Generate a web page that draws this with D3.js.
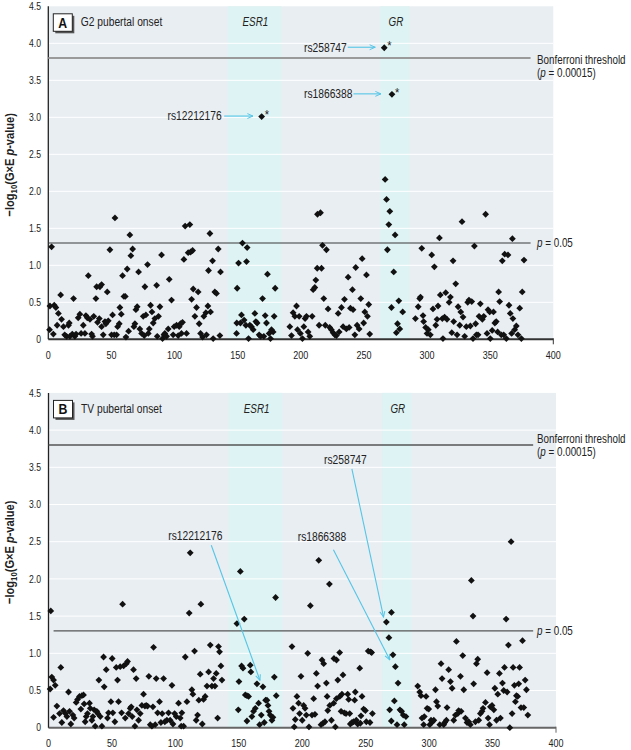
<!DOCTYPE html>
<html><head><meta charset="utf-8">
<script src="https://cdn.jsdelivr.net/npm/d3@7"></script>
<style>html,body{margin:0;padding:0;background:#fff;}svg{display:block;}</style>
</head><body>
<script>
// ---------------- DATA ----------------
const xTicks = [0, 50, 100, 150, 200, 250, 300, 350, 400];
const yTicks = [0, 0.5, 1, 1.5, 2, 2.5, 3, 3.5, 4, 4.5];
const yTickLabels = ["0", "0.5", "1.0", "1.5", "2.0", "2.5", "3.0", "3.5", "4.0", "4.5"];
const geneNames = ["ESR1", "GR"];
const geneStart = [142, 263];
const geneEnd = [184.5, 286];
const bonferroniY = 3.8;
const p05Y = 1.301;

// Panel A: G2 pubertal onset  [SNP index, -log10 p]
const g2Points = [
[1,0.13],[1.3,0.45],[2.6,1.25],[4,0.07],[4.7,0.46],[6,0.43],[7,0.19],[8,0.35],[9.8,0.60],[10.5,0.27],[12,0.17],[13,0.06],[14.5,0.04],[16,0.19],[16.6,0.22],[17.1,0.04],[19,0.07],[20,0.55],[21,0.04],[22,0.07],[23.7,0.29],[25,0.34],[26,0.08],[27.7,0.19],[29,0.08],[29.8,0.32],[30.9,0.29],[31.7,0.86],[33,0.27],[34.3,0.07],[35,0.04],[36,0.31],[37.7,0.55],[38.3,0.71],[39,0.23],[40.4,0.28],[40.9,0.71],[42.2,0.74],[42.2,0.17],[43.5,0.06],[44.9,0.24],[45.6,0.21],[46.7,0.64],[47.5,0.25],[48.8,1.21],[50.1,0.06],[50.9,0.33],[52.2,0.06],[52.8,1.64],[54.1,0.06],[54.9,0.17],[56.2,0.21],[56.7,0.43],[57.8,0.34],[58.8,0.86],[59.9,0.58],[61,0.58],[61.5,0.03],[62.5,0.95],[63.6,0.11],[64.6,1.41],[65.4,1.13],[66.8,1.22],[67.8,0.17],[68.6,0.21],[69.4,0.40],[70.4,0.44],[71.5,0.91],[72.5,0.14],[73.9,0.08],[75.2,0.31],[76,0.05],[76.5,0.71],[77.3,0.33],[78.6,1.01],[79.2,0.08],[80,0.14],[81,0.46],[82.1,0.37],[83.1,0.22],[84.4,0.28],[85.8,0.73],[86.3,0.04],[87.3,0.31],[88.4,0.44],[89.7,1.14],[90.5,0.01],[91.6,0.06],[92.3,0.08],[93.7,0.04],[95,0.14],[95.8,0.81],[97.6,0.53],[98.9,0.06],[99.7,0.17],[101.6,0.19],[102.9,0.05],[103.7,0.17],[104.7,0.21],[105.5,0.08],[106.3,0.23],[107.4,1.08],[108.4,1.53],[109.5,0.08],[110.8,1.17],[112.1,1.55],[112.7,1.18],[113.5,0.54],[114.3,1.20],[114.8,0.68],[116.1,0.31],[117.4,0.43],[118.7,0.64],[119.5,0.21],[120.6,0.08],[122.2,0.03],[123.2,0.31],[124.8,0.36],[125.3,0.06],[126.4,0.45],[126.9,0.93],[128,1.43],[128.5,0.37],[130.1,1.06],[130.6,0.01],[131.9,0.64],[133.2,0.62],[134.6,1.22],[135.9,0.05],[136.4,0.91],
[149.1,0.08],[149.3,0.22],[149.6,0.69],[150.7,1.03],[152.2,0.22],[153,0.33],[153.8,1.30],[155.1,0.26],[156.5,0.19],[157,1.05],[157.5,1.24],[158.6,0.01],[159.6,0.19],[160.9,0.17],[162.3,0.13],[163.6,0.35],[164.4,0.24],[165.4,0.22],[167,0.06],[168.1,0.04],[169.7,0.55],[170.7,0.04],[171.8,0.32],[172.8,0.22],[173.6,0.88],[174.9,0.08],[176,0.01],[176.8,0.13],[178.1,0.10],[178.9,0.31],[179.7,0.69],
[191.3,0.17],[192.6,0.05],[193.9,0.36],[195.3,0.31],[196.6,0.45],[197.4,0.13],[198.7,0.31],[199.7,0.08],[201.3,0.01],[202.4,0.17],[203.4,0.28],[204.5,0.31],[205.8,0.10],[207.1,0.04],[209,0.31],[209.8,0.67],[211.1,0.70],[211.9,0.80],[213,0.96],[213.2,1.69],[214.5,0.19],
[215.6,1.71],[216.4,0.96],[217.2,1.27],[218.2,0.55],[219.4,0.19],[220.3,1.21],[221.6,0.41],[222.9,0.16],[224.2,0.13],[225.6,0.09],[226.9,0.06],[228.2,0.05],[229.6,0.35],[230.4,0.10],[232.2,0.43],[233.5,0.17],[234.6,0.54],[236.1,0.14],[237.5,0.84],[238.3,0.16],[239.3,0.42],[240.9,0.67],[241.4,0.40],[242.8,0.06],[243.5,0.97],[244.6,0.19],[246.2,0.14],[247.5,0.55],[248.6,1.09],[249.8,0.22],[250.7,0.37],[252,0.87],[252.8,0.31],[253.8,0.47],[254.6,0.07],
[266.8,2.16],[267.9,1.89],[268.6,1.21],[269.7,1.55],[270.5,1.73],[271.8,0.43],[273.6,0.91],[274.7,1.41],[275.7,0.09],[276.6,0.21],[277.6,0.52],[278.4,0.14],[280.7,0.37],
[290.8,0.28],[293,0.44],[294.2,0.55],[294.8,0.57],[295.8,1.23],[296.8,0.32],[297.3,0.24],[298.9,0.16],[300,0.08],[301,0.13],[302.6,0.06],[303.7,1.14],[304.7,0.41],[305.8,0.98],[306.9,0.19],[307.9,0.27],[308.7,0.45],[309.8,1.37],[310.5,0.60],[312.1,0.28],[312.6,0.01],[313.9,0.30],[314.8,0.63],[315.8,0.27],[317.5,0.50],[318.5,0.57],[319.6,0.09],[320.6,1.06],[321.1,0.24],[322.7,0.75],[323.8,0.06],[324.6,0.44],[325.9,0.19],[326.7,0.37],[327.7,1.59],[328.5,0.30],[329.8,0.04],[331.1,0.17],[332.2,0.50],[333.2,0.53],[334.3,0.18],[335.4,0.51],[336.4,0.01],[337.5,1.26],[338.5,0.21],[339.1,0.06],[340.4,0.06],[341.2,0.31],[342.2,0.48],[343.8,0.27],[344.9,0.31],[346.4,1.69],[347.5,0.08],[348.3,0.40],[349.6,0.37],[350.1,0.01],[351.6,0.12],[352.6,0.37],[353.7,0.22],[354.8,0.24],[355.9,0.10],[356.7,0.64],[357.5,0.51],[358.8,0.06],[359.6,1.06],[360.7,0.06],[361.5,1.15],[362.8,0.01],[364.1,1.14],[364.9,0.46],[365.9,0.35],[367,0.08],[367.6,1.36],[368,0.28],[369.4,0.13],[370.7,0.18],[372,0.06],[373.4,0.42],[374.7,0.01],[375.4,0.64],[376.8,1.07]
];
// Panel A highlighted SNPs
const g2HitNames = ["rs12212176", "rs258747", "rs1866388"];
const g2HitX = [169, 266.1, 272.2];
const g2HitY = [3.01, 3.94, 3.31];

// Panel B: TV pubertal onset
const tvPoints = [
[1.3,0.52],[1.8,1.57],[2.6,0.68],[4,0.64],[5.3,0.57],[4,0.14],[6.6,0.29],[8.7,0.19],[9.7,0.81],[10.5,0.07],[11.8,0.23],[13.4,0.19],[14.5,0.15],[15.8,0.48],[16.6,0.22],[17.6,0.05],[19.2,0.17],[20.2,0.13],[21.8,0.34],[22.9,0.38],[24.4,0.42],[25.5,0.25],[26.3,0.43],[27.6,0.44],[28.1,0.32],[28.9,0.08],[29.7,0.15],[30.7,0.19],[32.3,0.33],[32.9,0.26],[34.2,0.10],[35,0.15],[36,0.24],[36.8,0.02],[38.1,0.22],[38.9,0.19],[39.7,0.64],[40.8,0.15],[42.1,0.02],[43.4,0.95],[43.9,0.55],[45.5,0.78],[46.5,0.13],[47.3,0.20],[49.2,0.35],[50.2,0.93],[50.7,0.20],[52.3,0.08],[53.4,0.81],[54.4,0.64],[55.2,0.35],[56.5,0.82],[57.6,0.20],[58.4,1.66],[59.2,0.83],[60.5,0.13],[61.3,0.86],[62.3,0.89],[63.1,0.19],[64.4,0.26],[65.2,0.28],[66,0.15],[67,0.78],[68.1,0.02],[69.1,0.66],[69.7,0.24],[71,0.10],[72.3,0.19],[73.6,0.30],[74.9,0.45],[76,0.29],[77,0.30],[78.1,0.29],[79.1,0.69],[80.2,0.04],[81.5,0.02],[82.3,0.28],[82.8,1.08],[84.1,0.04],[84.9,0.66],[86,0.20],[87.5,0.35],[88.6,0.07],[89.6,0.19],[90.7,0.66],[91.7,0.08],[93.3,0.10],[94.6,0.20],[95.9,0.10],[97.3,0.57],[98.1,0.05],[99.4,0.19],[100.7,0.15],[102.5,0.33],[103.8,0.13],[104.6,0.02],[105.1,0.20],[106.5,0.02],[107.8,0.95],[109.1,0.35],[110.9,1.54],[111.7,2.35],[113,0.51],[113.8,0.45],[115.1,1.03],[116.4,0.10],[117.5,0.17],[118.5,0.37],[119.6,0.72],[120.1,1.66],[121.2,0.05],[122.2,0.38],[123.5,0.42],[124.9,0.56],[126.2,0.75],[127.5,1.11],[128.8,0.56],[130.1,0.66],[131.2,0.56],[132.2,0.73],[133.3,0.13],[134,1.09],[134.8,1.02],[135.9,0.83],[136.7,0.64],
[148.5,1.40],[149.6,0.24],[150.1,0.62],[151.2,2.10],[152.2,0.83],[153.3,0.80],[154.3,1.46],[155.1,0.44],[156.4,0.43],[157.7,0.42],[156.4,0.09],[159,0.84],[159.5,0.75],[160.3,0.15],[161.6,0.22],[163,0.26],[164.3,0.59],[165.6,0.33],[166.4,0.04],[167.7,0.17],[169,0.55],[170.1,0.07],[171.1,0.37],[172.2,0.37],[173,0.30],[173.8,0.22],[174.8,0.17],[176.1,0.10],[176.9,0.14],[178,0.68],[179,1.75],[179.5,0.43],
[191.9,1.09],[192.7,0.26],[193.7,0.01],[194.5,0.11],[195.8,0.42],[197.1,0.33],[197.9,0.19],[199,0.69],[200,0.10],[201.1,0.30],[202.2,0.26],[203.2,0.17],[204.3,1.00],[205.3,0.01],[206.4,1.64],[207.7,0.17],[209,0.39],[210,0.18],[211.1,0.73],[212.1,0.56],[213,2.25],
[214.8,0.04],[215.6,0.91],[216.4,0.06],[216.9,0.86],[217.9,0.08],[219,0.60],[219.6,0.42],[220.1,0.23],[221.4,1.93],[221.7,0.30],[223,0.10],[224.8,0.33],[225,0.93],[226.1,0.01],[226.9,0.39],[227,0.91],[228,0.64],[229.5,1.01],[229.6,0.42],[230.6,0.22],[231.3,0.45],[232.1,0.71],[233.2,0.20],[234.5,0.19],[235.8,0.45],[236.6,0.38],[237.4,0.19],[237.9,0.05],[239.2,0.07],[240.5,0.08],[241.3,0.37],[241.8,0.48],[242.6,0.10],[243.7,0.05],[245.3,0.80],[245.8,0.06],[246.3,0.16],[247.1,0.42],[248.4,0.25],[249.8,0.23],[250.5,0.08],[252,1.03],[253.4,0.07],[253.9,1.02],[254.7,1.01],[255.3,0.19],
[266.3,1.42],[268.3,1.21],[268.9,0.24],[270.2,0.09],[270.3,1.55],[271.5,0.98],[272.6,0.36],[273.4,0.82],[274.7,0.04],[275.5,0.60],[277,0.24],[278.3,0.22],[279.6,0.17],[280.4,0.04],[281.7,0.15],
[291,0.56],[292.6,0.48],[293.6,0.43],[294.4,0.13],[295.7,0.04],[296.2,0.15],[297.6,0.42],[298.4,0.26],[299.7,0.25],[300.5,0.04],[301.5,0.10],[302.6,0.08],[303.7,0.10],[305,0.51],[305.8,0.35],[306.8,0.29],[308.4,0.04],[309.4,0.86],[310.2,0.66],[311.5,0.04],[312.3,0.07],[313.6,0.10],[314.1,0.27],[315.4,0.78],[316.8,0.62],[318.1,0.53],[319.4,0.10],[320.7,0.17],[321.5,1.16],[322.6,0.19],[323.3,0.23],[324.7,0.69],[325.2,0.22],[326.5,0.97],[327.3,0.51],[328.6,0.13],[329.9,0.07],[331.2,0.08],[332.5,0.04],[333.3,1.98],[334.6,1.50],[335.1,0.59],[336.5,0.08],[337.3,0.86],[338.3,0.92],[339.1,0.10],[340.4,0.19],[341.7,0.22],[342.5,0.26],[344.4,0.34],[345.7,0.74],[346.5,0.13],[347.6,0.04],[348.3,0.28],[349.6,0.30],[351,0.24],[351.8,0.53],[353.1,0.10],[354.1,0.45],[355.4,0.73],[356.2,0.13],[357.8,0.60],[358.8,0.50],[359.4,0.81],[360.7,1.46],[361.5,0.48],[362.5,1.11],[363.6,0.00],[364.6,2.50],[365.4,0.19],[366.2,0.81],[367.2,0.57],[368,0.35],[368.8,0.43],[369.8,0.42],[370.6,0.59],[371.3,0.81],[372.4,0.27],[373.6,1.17],[374.6,0.27],[375.7,0.64],[376.7,0.51],[377.8,0.17]
];
const tvHitNames = ["rs12212176", "rs258747", "rs1866388"];
const tvHitX = [169, 266.3, 271.5];
const tvHitY = [0.55, 1.42, 0.98];

// ---------------- DRAW ----------------
const W = 631, H = 750;
const FONT = "'Liberation Sans', Arial, sans-serif";
const SX = 0.82; // horizontal condensing to mimic a condensed face
const CYAN = "#55c5e6";
const svg = d3.select("body").append("svg").attr("width", W).attr("height", H)
  .style("font-family", FONT);

// condensed text helper
function ctext(parent, x, y, size, anchor) {
  return parent.append("text")
    .attr("transform", `translate(${x},${y}) scale(${SX},1)`)
    .attr("font-size", size).attr("text-anchor", anchor || "start").attr("fill", "#222");
}

const defs = svg.append("defs");
defs.append("marker").attr("id", "arr").attr("viewBox", "0 0 10 10")
  .attr("refX", 9).attr("refY", 5).attr("markerWidth", 7).attr("markerHeight", 7)
  .attr("orient", "auto").attr("markerUnits", "userSpaceOnUse")
  .append("path").attr("d", "M1,1.5 L9,5 L1,8.5").attr("fill", "none")
  .attr("stroke", CYAN).attr("stroke-width", 1.4);

const diamond = (r) => `M0,${-r}L${r},0L0,${r}L${-r},0Z`;

const panels = [
  { letter: "A", title: "G2 pubertal onset", pts: g2Points,
    hitN: g2HitNames, hitX: g2HitX, hitY: g2HitY,
    xr: [48.3, 553.3], yr: [339.3, 6.3], bonfColor: "#9a9a9a", bonfW: 2,
    pColor: "#3a3a3a", pW: 1.1, lineStart: 0, axisColor: "#333" },
  { letter: "B", title: "TV pubertal onset", pts: tvPoints,
    hitN: tvHitNames, hitX: tvHitX, hitY: tvHitY,
    xr: [48.5, 556], yr: [727.7, 392.9], bonfColor: "#555", bonfW: 1.4,
    pColor: "#555", pW: 1.4, lineStart: 4, axisColor: "#666" }
];

panels.forEach((P, pi) => {
  const x = d3.scaleLinear().domain([0, 400]).range(P.xr);
  const y = d3.scaleLinear().domain([0, 4.5]).range(P.yr);
  const g = svg.append("g");

  // background
  g.append("rect").attr("x", x(0)).attr("y", y(4.5))
    .attr("width", x(400) - x(0)).attr("height", y(0) - y(4.5)).attr("fill", "#e9eef3");
  // gene bands
  geneNames.forEach((n, i) => {
    g.append("rect").attr("x", x(geneStart[i])).attr("y", y(4.5))
      .attr("width", x(geneEnd[i]) - x(geneStart[i])).attr("height", y(0) - y(4.5))
      .attr("fill", "#def3f3");
    ctext(g, (x(geneStart[i]) + x(geneEnd[i])) / 2 + 1, y(4.5) + 20, 12, "middle")
      .attr("font-style", "italic").text(n);
  });
  // gridlines
  yTicks.filter(t => t > 0 && t < 4.5).forEach(t => {
    g.append("line").attr("x1", x(0)).attr("x2", x(400)).attr("y1", y(t)).attr("y2", y(t))
      .attr("stroke", "#fff").attr("stroke-width", 1);
  });
  // y tick labels
  yTicks.forEach((t, i) => {
    ctext(g, 41, y(t), 10.5, "end").attr("dy", "0.35em").text(yTickLabels[i]);
  });
  // x axis
  g.append("line").attr("x1", x(0)).attr("x2", x(400)).attr("y1", y(0)).attr("y2", y(0))
    .attr("stroke", P.axisColor).attr("stroke-width", 2);
  g.append("line").attr("x1", x(400)).attr("x2", x(400)).attr("y1", y(0) - 1).attr("y2", y(0) + 5)
    .attr("stroke", P.axisColor).attr("stroke-width", 1);
  xTicks.forEach(t => {
    ctext(g, x(t), y(0) + 19.5, 11, "middle").text(t);
  });
  // y axis line
  g.append("line").attr("x1", x(0)).attr("x2", x(0)).attr("y1", y(4.5)).attr("y2", y(0))
    .attr("stroke", "#222").attr("stroke-width", 1.3);

  // threshold lines
  g.append("line").attr("x1", x(0)).attr("x2", x(382)).attr("y1", y(bonferroniY)).attr("y2", y(bonferroniY))
    .attr("stroke", P.bonfColor).attr("stroke-width", P.bonfW);
  g.append("line").attr("x1", x(P.lineStart)).attr("x2", x(382)).attr("y1", y(p05Y)).attr("y2", y(p05Y))
    .attr("stroke", P.pColor).attr("stroke-width", P.pW);

  // threshold labels
  const by = pi === 0 ? y(bonferroniY) + 6 : y(bonferroniY) - 2;
  ctext(g, 537, by, 12).text("Bonferroni threshold");
  const bl2 = ctext(g, 537, by + 13, 12);
  bl2.append("tspan").text("(");
  bl2.append("tspan").attr("font-style", "italic").text("p");
  bl2.append("tspan").text(" = 0.00015)");
  const pl = ctext(g, 537, y(p05Y) + 4, 12);
  pl.append("tspan").attr("font-style", "italic").text("p");
  pl.append("tspan").text(" = 0.05");

  // y-axis title
  const cy = (y(0) + y(4.5)) / 2 - 8;
  const yt = g.append("text").attr("transform", `translate(13.5,${cy}) rotate(-90) scale(${SX},1)`)
    .attr("text-anchor", "middle").attr("font-size", 13.5).attr("font-weight", "bold").attr("fill", "#222");
  yt.append("tspan").text("\u2212log");
  yt.append("tspan").attr("font-size", 9.5).attr("dy", 3).text("10");
  yt.append("tspan").attr("dy", -3).text("(G\u00d7E ");
  yt.append("tspan").attr("font-style", "italic").text("p");
  yt.append("tspan").text("-value)");

  // panel letter box
  const bx = x(0) + 5, byy = y(4.5) + 7.5;
  g.append("rect").attr("x", bx + 2).attr("y", byy + 2).attr("width", 19).attr("height", 17.5).attr("fill", "#555");
  g.append("rect").attr("x", bx).attr("y", byy).attr("width", 19).attr("height", 17.5)
    .attr("fill", "#fff").attr("stroke", "#222").attr("stroke-width", 1);
  ctext(g, bx + 9.5, byy + 13.8, 15, "middle").attr("font-weight", "bold").attr("fill", "#111").text(P.letter);
  ctext(g, bx + 27.5, byy + 12.5, 12.5).text(P.title);

  // points
  g.append("g").selectAll("path").data(P.pts).join("path")
    .attr("transform", d => `translate(${x(d[0])},${y(d[1])})`)
    .attr("d", diamond(3.4)).attr("fill", "#111");

  // annotations
  if (pi === 0) {
    const hits = P.hitN.map((n, i) => ({ n, x: P.hitX[i], y: P.hitY[i] }));
    g.append("g").selectAll("path").data(hits).join("path")
      .attr("transform", d => `translate(${x(d.x)},${y(d.y)})`)
      .attr("d", diamond(3.4)).attr("fill", "#111");
    const tipOff = [8.7, 9, 11], startOff = [37.5, 36.5, 38.5], labOff = [40, 37.5, 39.5];
    hits.forEach((d, i) => {
      const px = x(d.x), py = y(d.y);
      g.append("line").attr("x1", px - startOff[i]).attr("x2", px - tipOff[i])
        .attr("y1", py - 0.5).attr("y2", py - 0.5).attr("stroke", CYAN).attr("stroke-width", 1.1)
        .attr("marker-end", "url(#arr)");
      ctext(g, px - labOff[i], py + 3.8, 12.5, "end").text(d.n);
      ctext(g, px + 3, py + 2.5, 13.5).text("*");
    });
  } else {
    const hits = P.hitN.map((n, i) => ({ n, x: P.hitX[i], y: P.hitY[i] }));
    // label centers (data units) and offsets of line start from label / tip from point
    const labX = [115.7, 234, 215.5], labY = [2.58, 3.6, 2.56];
    const tipDx = [-3, -2.8, -3.2], tipDy = [-6.5, -5, 5];
    const stDx = [16, 6.5, 11.5], stDy = [9.5, 9, 12.5];
    hits.forEach((d, i) => {
      const lx = x(labX[i]), ly = y(labY[i]);
      g.append("line").attr("x1", lx + stDx[i]).attr("y1", ly + stDy[i])
        .attr("x2", x(d.x) + tipDx[i]).attr("y2", y(d.y) + tipDy[i])
        .attr("stroke", CYAN).attr("stroke-width", 1.1).attr("marker-end", "url(#arr)");
      ctext(g, lx, ly + 4, 12.5, "middle").text(d.n);
    });
  }
});
</script>
</body></html>
